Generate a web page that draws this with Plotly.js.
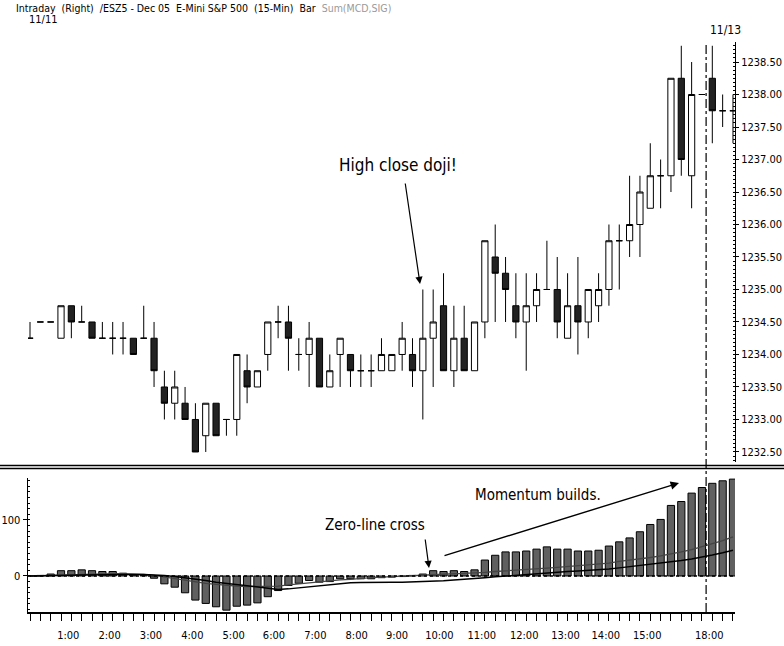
<!DOCTYPE html>
<html>
<head>
<meta charset="utf-8">
<script src="https://cdn.plot.ly/plotly-3.0.1.min.js"></script>
<style>html,body{margin:0;padding:0;background:#fff;}#chart{width:784px;height:646px;}</style>
</head>
<body>
<div id="chart"></div>
<script>
// ---- Data (15-min bars, index 0..68) ----
const barIndex = Array.from({length: 69}, (_, i) => i);

const openPrices = [
 1234.25,1234.5,1234.5,1234.25,1234.75,1234.5,1234.5,1234.25,1234.25,1234.25,
 1234.25,1234.25,1234.25,1233.5,1233.25,1233.25,1233.0,1232.75,1233.25,1233.0,
 1233.0,1233.75,1233.5,1234.0,1234.5,1234.5,1234.0,1234.0,1234.25,1233.5,
 1234.0,1234.0,1233.75,1233.75,1233.75,1233.75,1234.0,1234.0,1233.75,1234.25,
 1234.75,1233.75,1234.25,1233.75,1234.5,1235.5,1235.25,1234.75,1234.5,1234.75,
 1235.0,1235.0,1234.25,1234.75,1234.5,1234.75,1235.0,1235.75,1235.75,1236.0,
 1236.25,1236.75,1236.75,1238.25,1236.75,1238.0,1238.25,1237.75,1237.75];
const highPrices = [
 1234.5,1234.5,1234.5,1234.75,1234.75,1234.75,1234.5,1234.5,1234.5,1234.5,
 1234.25,1234.75,1234.5,1233.75,1233.75,1233.5,1233.25,1233.25,1233.25,1233.0,
 1234.0,1234.0,1233.75,1234.5,1234.75,1234.75,1234.25,1234.5,1234.25,1234.0,
 1234.25,1234.0,1234.0,1234.0,1234.25,1234.0,1234.5,1234.25,1235.0,1235.0,
 1235.25,1234.75,1234.75,1234.5,1235.75,1236.0,1235.5,1235.25,1235.25,1235.25,
 1235.75,1235.5,1235.25,1235.5,1235.0,1235.25,1236.0,1236.0,1236.75,1236.75,
 1237.25,1237.0,1238.25,1238.75,1238.5,1238.0,1238.75,1238.0,1238.0];
const lowPrices = [
 1234.25,1234.5,1234.5,1234.25,1234.25,1234.5,1234.25,1234.25,1234.0,1234.0,
 1234.0,1234.25,1233.5,1233.0,1233.0,1233.0,1232.5,1232.5,1232.75,1232.75,
 1232.75,1233.25,1233.5,1233.75,1234.25,1233.75,1233.75,1233.5,1233.5,1233.5,
 1233.5,1233.5,1233.5,1233.5,1233.75,1233.75,1233.75,1233.5,1233.0,1233.5,
 1233.75,1233.5,1233.75,1233.75,1234.25,1234.5,1234.5,1234.25,1233.75,1234.5,
 1235.0,1234.25,1234.25,1234.0,1234.25,1234.5,1234.75,1235.0,1235.5,1235.5,
 1236.25,1236.25,1236.5,1236.75,1236.25,1238.0,1237.25,1237.5,1237.25];
const closePrices = [
 1234.25,1234.5,1234.5,1234.75,1234.5,1234.5,1234.25,1234.25,1234.25,1234.25,
 1234.0,1234.25,1233.75,1233.25,1233.5,1233.0,1232.5,1233.25,1232.75,1233.0,
 1234.0,1233.5,1233.75,1234.5,1234.5,1234.25,1234.0,1234.25,1233.5,1233.75,
 1234.25,1233.75,1233.75,1233.75,1234.0,1234.0,1234.25,1233.75,1234.25,1234.5,
 1233.75,1234.25,1233.75,1234.5,1235.75,1235.25,1235.0,1234.5,1234.75,1235.0,
 1235.0,1234.5,1234.75,1234.5,1235.0,1235.0,1235.75,1235.75,1236.0,1236.5,
 1236.75,1236.75,1238.25,1237.0,1238.0,1238.0,1237.75,1237.75,1237.75];

// Momentum histogram and its two lines
const histValues = [
 0.5,1,3.5,9.5,9.5,11,9.5,8,8,5,
 2,1,-4,-14,-20,-30,-43,-49,-55,-61,
 -54,-52,-48,-37,-26,-17,-13,-8,-11,-10,
 -5,-5,-5,-5,-3,-2,-1,1,3.5,9.5,
 8,9.5,8,11,28.5,37,43,43,44.6,48,
 52,48,48,44.6,44.6,46,53.5,61,68,79,
 92,101,126,133,148,158,165.5,170,173];
const fastLine = [
 0,0.5,1,2,3,3.5,4,4,4,4,
 3.5,3,1,-2,-5,-8,-11,-13,-15,-17,
 -18,-19,-19,-19,-18,-16,-14,-12,-10,-9,
 -7,-6,-4,-3,-2,-1,0,1,2,2.5,
 3,4,4.5,5,6.5,8,9,10,11,12,
 14,15.5,17,18,19.5,21,23,26,28,30,
 33,36,39,43,47,52,57,63,70];
const slowLine = [
 0,0,0.3,0.8,1.2,1.6,2,2.3,2.5,2.6,
 2.6,2.5,2,1,-1,-3,-6,-8,-11,-13,
 -15,-17,-19,-21,-24,-23,-21,-19,-17,-15,
 -13,-12,-11.5,-11,-11,-11,-11,-10.5,-10,-9,
 -8.5,-7,-6,-4.5,-3,-1.5,0,1,2,3.5,
 5,6.5,8,9,10,11,12.5,14.5,16.5,18.5,
 20.5,22.5,25,27.5,30.5,33.5,37.5,41.5,46];

// Axis labels
const timeLabels = ["1:00","2:00","3:00","4:00","5:00","6:00","7:00","8:00","9:00","10:00","11:00","12:00","13:00","14:00","15:00","18:00"];
const timeLabelPos = [3.7,7.7,11.7,15.7,19.7,23.6,27.6,31.6,35.5,39.6,43.7,47.8,51.8,55.7,59.7,65.7];
const priceTicks = [1232.5,1233,1233.5,1234,1234.5,1235,1235.5,1236,1236.5,1237,1237.5,1238,1238.5];
const momTicks = [0, 100];
const sessionBreak = 65.4;

const F = "'DejaVu Sans Condensed', 'Liberation Sans Narrow', Arial, sans-serif";

const traces = [
  {
    type: 'candlestick', x: barIndex,
    open: openPrices, high: highPrices, low: lowPrices, close: closePrices,
    xaxis: 'x', yaxis: 'y',
    increasing: {line: {color: '#000', width: 1}, fillcolor: '#ffffff'},
    decreasing: {line: {color: '#000', width: 1}, fillcolor: '#222222'},
    whiskerwidth: 0, hoverinfo: 'skip'
  },
  {
    type: 'bar', x: barIndex, y: histValues, xaxis: 'x', yaxis: 'y2',
    width: 0.7, marker: {color: '#606060', line: {color: '#000', width: 1}},
    hoverinfo: 'skip'
  },
  {
    type: 'scatter', mode: 'lines', x: barIndex, y: fastLine, xaxis: 'x', yaxis: 'y2',
    line: {color: '#444', width: 1.3}, hoverinfo: 'skip'
  },
  {
    type: 'scatter', mode: 'lines', x: barIndex, y: slowLine, xaxis: 'x', yaxis: 'y2',
    line: {color: '#000', width: 1.5}, hoverinfo: 'skip'
  }
];

const layout = {
  width: 784, height: 646,
  margin: {l: 28, r: 49, t: 42, b: 34},
  paper_bgcolor: '#fff', plot_bgcolor: '#fff',
  showlegend: false, hovermode: false,
  boxgap: 0.4, boxgroupgap: 0,
  bargap: 0.3,
  font: {family: F, size: 11, color: '#000'},
  xaxis: {
    anchor: 'y2', range: [-0.1935, 68.195],
    tickmode: 'array', tickvals: timeLabelPos, ticktext: timeLabels,
    ticks: '', ticklabelstandoff: 12, showgrid: false, zeroline: false,
    showline: true, linecolor: '#000', linewidth: 1.5,
    tickfont: {family: F, size: 11, color: '#000'},
    minor: {tickmode: 'linear', tick0: 0, dtick: 1, ticks: 'outside', ticklen: 7, tickcolor: '#000', tickwidth: 1, showgrid: false},
    rangeslider: {visible: false}, fixedrange: true
  },
  yaxis: {
    domain: [0.2632, 1], anchor: 'x', side: 'right',
    range: [1232.346, 1238.808],
    tickmode: 'array', tickvals: priceTicks, tickformat: '.2f',
    ticks: 'outside', ticklen: 3, tickcolor: '#000',
    showline: true, linecolor: '#000', linewidth: 1,
    showgrid: false, zeroline: false,
    tickfont: {family: F, size: 11, color: '#000'},
    minor: {tickmode: 'linear', tick0: 1232.5, dtick: 0.0625, ticks: 'inside', ticklen: 2, tickcolor: '#000', showgrid: false},
    fixedrange: true
  },
  yaxis2: {
    domain: [0, 0.2351], anchor: 'x', side: 'left',
    range: [-64.3, 175],
    tickmode: 'array', tickvals: momTicks,
    ticks: 'outside', ticklen: 4, tickcolor: '#000',
    showline: true, linecolor: '#000', linewidth: 1.5,
    showgrid: false, zeroline: false,
    tickfont: {family: F, size: 11, color: '#000'},
    minor: {tickmode: 'linear', tick0: 0, dtick: 10, ticks: 'inside', ticklen: 2, tickcolor: '#000', showgrid: false},
    fixedrange: true
  },
  shapes: [
    {type: 'line', xref: 'paper', x0: 0, x1: 1, yref: 'y2', y0: 0, y1: 0,
     line: {color: '#000', width: 1.5, dash: 'dot'}, layer: 'above'},
    {type: 'line', xref: 'x', x0: sessionBreak, x1: sessionBreak, yref: 'paper', y0: 0, y1: 1,
     line: {color: '#000', width: 1.2, dash: 'dashdot'}, layer: 'above'},
    {type: 'line', xref: 'paper', x0: -0.04, x1: 1.07, yref: 'paper', y0: 0.2570, y1: 0.2570,
     line: {color: '#000', width: 1.6}},
    {type: 'line', xref: 'paper', x0: -0.04, x1: 1.07, yref: 'paper', y0: 0.2518, y1: 0.2518,
     line: {color: '#000', width: 1.6}}
  ],
  annotations: [
    {xref: 'paper', yref: 'paper', x: -0.0198, y: 1.0596, xanchor: 'left', yanchor: 'middle',
     showarrow: false, font: {family: F, size: 10.5, color: '#000'},
     text: 'Intraday\u00a0\u00a0(Right)\u00a0\u00a0/ESZ5 - Dec 05\u00a0\u00a0E-Mini S&amp;P 500\u00a0\u00a0(15-Min)\u00a0\u00a0Bar\u00a0\u00a0<span style="color:#9a9a9a">Sum(MCD,SIG)</span>'},
    {xref: 'paper', yref: 'paper', x: -0.0014, y: 1.0386, xanchor: 'left', yanchor: 'middle',
     showarrow: false, font: {family: F, size: 11, color: '#000'}, text: '11/11'},
    {xref: 'paper', yref: 'paper', x: 0.9859, y: 1.0211, xanchor: 'center', yanchor: 'middle',
     showarrow: false, font: {family: F, size: 12, color: '#000'}, text: '11/13'},
    {xref: 'paper', yref: 'paper', x: 0.5233, y: 0.7842, xanchor: 'center', yanchor: 'middle',
     showarrow: false, font: {family: F, size: 17, color: '#000'}, text: 'High close doji!'},
    {xref: 'paper', yref: 'paper', x: 0.5545, y: 0.5754, ax: -15, ay: -102, axref: 'pixel', ayref: 'pixel',
     showarrow: true, arrowhead: 2, arrowsize: 1.2, arrowwidth: 1.2, arrowcolor: '#000', text: ''},
    {xref: 'paper', yref: 'paper', x: 0.4908, y: 0.1526, xanchor: 'center', yanchor: 'middle',
     showarrow: false, font: {family: F, size: 15, color: '#000'}, text: 'Zero-line cross'},
    {xref: 'paper', yref: 'paper', x: 0.5672, y: 0.0772, ax: -4, ay: -30, axref: 'pixel', ayref: 'pixel',
     showarrow: true, arrowhead: 2, arrowsize: 1.2, arrowwidth: 1.2, arrowcolor: '#000', text: ''},
    {xref: 'paper', yref: 'paper', x: 0.7214, y: 0.2053, xanchor: 'center', yanchor: 'middle',
     showarrow: false, font: {family: F, size: 15, color: '#000'}, text: 'Momentum builds.'},
    {xref: 'paper', yref: 'paper', x: 0.9208, y: 0.2263, ax: -236, ay: 73, axref: 'pixel', ayref: 'pixel',
     showarrow: true, arrowhead: 2, arrowsize: 1.2, arrowwidth: 1.4, arrowcolor: '#000', text: ''}
  ]
};

Plotly.newPlot('chart', traces, layout, {staticPlot: true, displayModeBar: false});
</script>
</body>
</html>
